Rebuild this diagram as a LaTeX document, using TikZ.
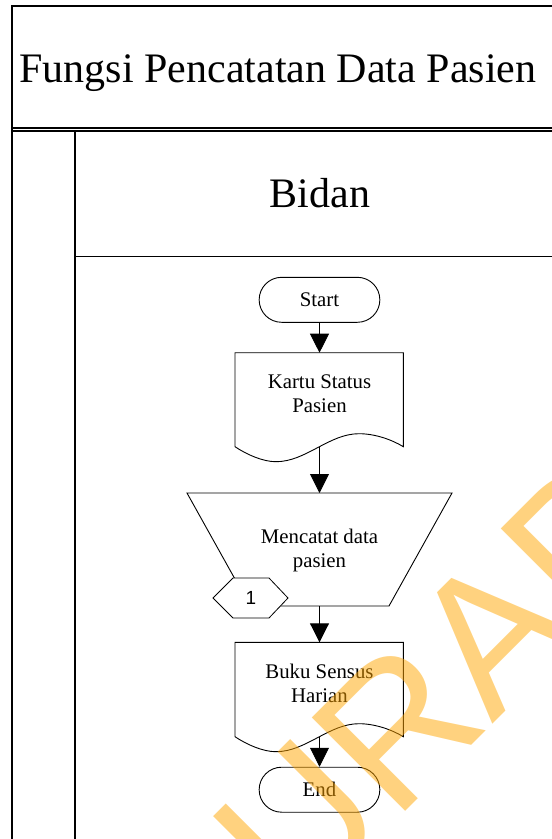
\documentclass[tikz,border=0pt]{standalone}
\usepackage{fontspec}
\setmainfont{Liberation Serif}
\newfontfamily\labelsans{Liberation Sans}
\usetikzlibrary{arrows.meta,shapes.misc}
\definecolor{wmorange}{RGB}{255,165,0}

\begin{document}
\begin{tikzpicture}[x=1pt,y=-1pt,
  frame/.style={line width=1.2pt, black},
  outline/.style={line width=0.9pt, black},
  terminal/.style={rounded rectangle, draw, line width=0.9pt,
    minimum width=120.7pt, minimum height=45pt, inner sep=0pt,
    font=\fontsize{20.8}{24}\selectfont},
  flowtext/.style={align=center, inner sep=0pt,
    font=\fontsize{20.8}{24}\selectfont},
  heading/.style={inner sep=0pt, anchor=base,
    font=\fontsize{42}{50}\selectfont},
  flow/.style={line width=0.9pt, -{Triangle[width=19pt,length=19pt]}},
  watermark/.style={text=wmorange, text opacity=0.5, inner sep=0pt,
    outer sep=0pt, font=\labelsans\fontsize{192}{230}\selectfont}
]
\useasboundingbox (0,0) rectangle (552,839);
\clip (0,0) rectangle (552,839);

% swimlane frame
\draw[frame] (12,845) -- (12,6) -- (560,6);
\draw[frame] (12,128) -- (560,128);
\draw[frame] (12,131) -- (560,131);
\draw[frame] (75,131) -- (75,845);
\draw[frame] (75,256.7) -- (560,256.7);

\node[heading] (title) at (278,82) {Fungsi Pencatatan Data Pasien};
\node[heading] (lane) at (320,207.3) {Bidan};

% start
\node[terminal] (start) at (319.5,299.8) {Start};

% document: Kartu Status Pasien
\draw[outline] (235,446.7) .. controls (247,454.7) and (263,461.7) .. (276,461.7)
  .. controls (306,461.7) and (329,433.7) .. (359,433.7)
  .. controls (375,433.7) and (392,439.7) .. (403.3,446.7)
  -- (403.3,352.7) -- (235,352.7) -- cycle;
\coordinate (kartuTop) at (319.5,352.7);
\coordinate (kartuBot) at (319.5,447);
\node[flowtext] (kartu) at (319.5,393.5) {Kartu Status\\Pasien};

% manual operation: Mencatat data pasien
\draw[outline] (187,493) -- (452,493) -- (389,606) -- (250,606) -- cycle;
\coordinate (catatTop) at (319.5,493);
\coordinate (catatBot) at (319.5,606);
\node[flowtext] (catat) at (319.5,550.5) {Mencatat data\\pasien};

% connector 1
\draw[line width=0.8pt, fill=white] (213,598) -- (233,578) -- (269,578)
  -- (288,598) -- (269,618) -- (233,618) -- cycle;
\node[inner sep=0pt, font=\labelsans\fontsize{19}{22}\selectfont] (conn) at (251,598) {1};

% document: Buku Sensus Harian
\draw[outline] (235,736.7) .. controls (247,744.7) and (263,751.7) .. (276,751.7)
  .. controls (306,751.7) and (329,723.7) .. (359,723.7)
  .. controls (375,723.7) and (392,729.7) .. (403.3,736.7)
  -- (403.3,642.3) -- (235,642.3) -- cycle;
\coordinate (bukuTop) at (319.5,642.3);
\coordinate (bukuBot) at (319.5,737);
\node[flowtext] (buku) at (319.5,683.5) {Buku Sensus\\Harian};

% end
\node[terminal] (end) at (319.5,789.7) {End};

% flow
\draw[flow] (start.south) -- (kartuTop);
\draw[flow] (kartuBot) -- (catatTop);
\draw[flow] (catatBot) -- (bukuTop);
\draw[flow] (bukuBot) -- (end.north);

% watermark
\node[watermark, rotate=45, anchor=base west] (mark) at (206.3,1011) {SURABAYA};
\end{tikzpicture}
\end{document}
